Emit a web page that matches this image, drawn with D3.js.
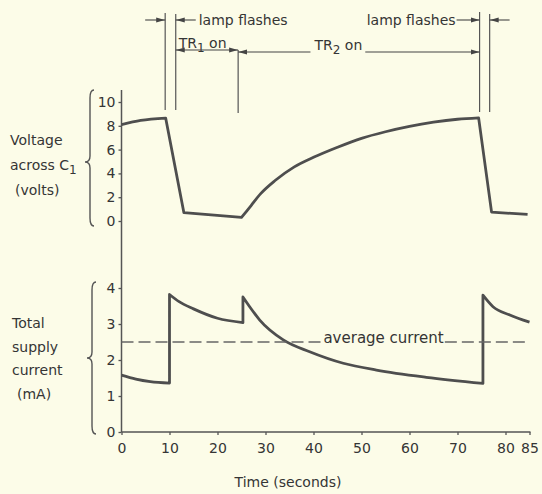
<!DOCTYPE html>
<html lang="en">
  <head>
    <meta charset="utf-8"/>
    <script src="https://d3js.org/d3.v7.min.js"></script>
    <style>
      body { margin: 0; background: #fcfce8; }
      .chart text {
        font-family: "DejaVu Sans", sans-serif;
        fill: #353535;
      }
      .axis path { display: none; }
      .axis line { stroke: #555; stroke-width: 1.3; }
      .axis text { font-size: 14px; }
    </style>
  </head>
  <body>
    <svg class="chart" width="542" height="494"></svg>
  </body>
  <script>
    // values
    const xTicks = [0, 10, 20, 30, 40, 50, 60, 70, 80, 85];
    const voltTicks = [0, 2, 4, 6, 8, 10];
    const currTicks = [0, 1, 2, 3, 4];

    const voltTime   = [0, 4, 9.2, 13, 25, 27, 29, 32, 36, 40, 45, 50, 55, 60, 65, 70, 74.4, 77.1, 84.6];
    const voltValues = [8.1, 8.45, 8.65, 0.7, 0.3, 1.3, 2.3, 3.4, 4.55, 5.35, 6.2, 6.95, 7.5, 7.95, 8.3, 8.55, 8.67, 0.75, 0.55];
    const voltCorners = [2, 3, 4, 16, 17];

    const currTime   = [0, 3, 6, 10, 10, 12, 15, 20, 25.3, 25.3, 26.7, 28.8, 33.7, 39.2, 46.2, 53.1, 63.5, 75.3, 75.3, 77.4, 80.9, 85];
    const currValues = [1.58, 1.47, 1.4, 1.36, 3.82, 3.62, 3.42, 3.16, 3.04, 3.75, 3.48, 3.11, 2.56, 2.23, 1.91, 1.72, 1.52, 1.35, 3.8, 3.48, 3.25, 3.05];
    const currCorners = [3, 4, 8, 9, 17, 18];

    const averageCurrent = 2.5;
    // times of the marker lines: flash 1 start/end, TR1 off, flash 2 start/end
    const eventTimes = [9.1, 11.3, 24.3, 74.6, 76.7];

    const svg = d3.select(".chart");
    svg.append("rect").attr("width", 542).attr("height", 494).attr("fill", "#fcfce8");

    const x = d3.scaleLinear().domain([0, 85]).range([121.5, 529.5]);
    const yV = d3.scaleLinear().domain([0, 10]).range([221, 102]);
    const yC = d3.scaleLinear().domain([0, 4]).range([432, 288]);

    // axes
    svg.append("g").attr("class", "axis")
      .attr("transform", "translate(0,432)")
      .call(d3.axisBottom(x).tickValues(xTicks).tickSize(3).tickPadding(8).tickFormat(d3.format("d")));
    svg.append("g").attr("class", "axis")
      .attr("transform", "translate(121.5,0)")
      .call(d3.axisLeft(yV).tickValues(voltTicks).tickSize(3).tickPadding(3).tickFormat(d3.format("d")));
    svg.append("g").attr("class", "axis")
      .attr("transform", "translate(121.5,0)")
      .call(d3.axisLeft(yC).tickValues(currTicks).tickSize(3).tickPadding(3).tickFormat(d3.format("d")));

    svg.append("line")
      .attr("x1", x(0)).attr("x2", x(0)).attr("y1", 90).attr("y2", yC(0))
      .attr("stroke", "#555").attr("stroke-width", 1.5);
    svg.append("line")
      .attr("x1", x(0)).attr("x2", x(85) + 1).attr("y1", yC(0)).attr("y2", yC(0))
      .attr("stroke", "#555").attr("stroke-width", 1.5);

    // curves: smooth between corners, sharp at corners
    function tracePath(times, values, corners, yScale) {
      const line = d3.line()
        .x(function(d) { return x(times[d]); })
        .y(function(d) { return yScale(values[d]); })
        .curve(d3.curveMonotoneX);
      const cuts = [0].concat(corners, [times.length - 1]);
      let d = "";
      for (let k = 0; k < cuts.length - 1; k++) {
        const idx = d3.range(cuts[k], cuts[k + 1] + 1);
        let seg = line(idx);
        if (k > 0) seg = "L" + seg.slice(1);
        d += seg;
      }
      return d;
    }

    svg.append("path")
      .attr("d", tracePath(voltTime, voltValues, voltCorners, yV))
      .attr("fill", "none").attr("stroke", "#4e4e4e").attr("stroke-width", 2.8)
      .attr("stroke-linejoin", "round");
    svg.append("path")
      .attr("d", tracePath(currTime, currValues, currCorners, yC))
      .attr("fill", "none").attr("stroke", "#4e4e4e").attr("stroke-width", 2.8)
      .attr("stroke-linejoin", "round");

    // average current dashed line with its label
    const avgLabel = svg.append("text")
      .attr("x", x(54.6)).attr("y", yC(averageCurrent) + 1)
      .attr("text-anchor", "middle").style("font-size", "15px")
      .text("average current");
    const bb = avgLabel.node().getBBox();
    [[x(0), bb.x - 1], [bb.x + bb.width + 1, x(85)]].forEach(function(seg) {
      svg.append("line")
        .attr("x1", seg[0]).attr("x2", seg[1])
        .attr("y1", yC(averageCurrent)).attr("y2", yC(averageCurrent))
        .attr("stroke", "#666").attr("stroke-width", 1.3)
        .attr("stroke-dasharray", "12,5");
    });

    // y labels
    function label(lines, xPos, yPos, gap) {
      const t = svg.append("text").style("font-size", "14px");
      lines.forEach(function(l, i) {
        t.append("tspan").attr("x", xPos + (l.dx || 0)).attr("y", yPos + i * gap).text(l.text);
        if (l.sub) {
          t.append("tspan").attr("dy", 4).style("font-size", "12px").text(l.sub);
        }
      });
    }
    label([{text: "Voltage"}, {text: "across C", sub: "1"}, {text: "(volts)", dx: 5}], 10, 145, 25);
    label([{text: "Total"}, {text: "supply"}, {text: "current"}, {text: "(mA)", dx: 5}], 12, 328, 23.5);

    // braces
    function brace(bx, y0, y1, ym) {
      const p = d3.path();
      p.moveTo(bx + 4, y0);
      p.quadraticCurveTo(bx, y0, bx, y0 + 8);
      p.lineTo(bx, ym - 6);
      p.quadraticCurveTo(bx, ym, bx - 5, ym);
      p.quadraticCurveTo(bx, ym, bx, ym + 6);
      p.lineTo(bx, y1 - 8);
      p.quadraticCurveTo(bx, y1, bx + 4, y1);
      svg.append("path").attr("d", p.toString())
        .attr("fill", "none").attr("stroke", "#555").attr("stroke-width", 1.4);
    }
    brace(90, 90, 226, 162);
    brace(92, 282, 434, 358);

    svg.append("text")
      .attr("x", 288).attr("y", 487).attr("text-anchor", "middle")
      .style("font-size", "14px").text("Time (seconds)");

    // top annotations
    svg.append("defs").append("marker")
      .attr("id", "ah").attr("viewBox", "0 -3 9 6")
      .attr("refX", 9).attr("refY", 0)
      .attr("markerWidth", 9).attr("markerHeight", 6)
      .attr("markerUnits", "userSpaceOnUse")
      .attr("orient", "auto")
      .append("path").attr("d", "M0,-2.5L9,0L0,2.5Z").attr("fill", "#444");

    function arrow(x1, x2, yy) {
      svg.append("line")
        .attr("x1", x1).attr("x2", x2).attr("y1", yy).attr("y2", yy)
        .attr("stroke", "#444").attr("stroke-width", 1.1)
        .attr("marker-end", "url(#ah)");
    }
    const ex = eventTimes.map(function(t) { return x(t); });
    const vTops = [13, 14, 50, 12, 14];
    const vBottoms = [110, 110, 113, 112, 112];
    ex.forEach(function(xx, i) {
      svg.append("line")
        .attr("x1", xx).attr("x2", xx).attr("y1", vTops[i]).attr("y2", vBottoms[i])
        .attr("stroke", "#555").attr("stroke-width", 1.2);
    });

    arrow(ex[0] - 20, ex[0], 20);
    arrow(ex[1] + 20, ex[1], 20);
    svg.append("text").attr("x", ex[1] + 23).attr("y", 25)
      .style("font-size", "14px").text("lamp flashes");
    svg.append("text").attr("x", ex[3] - 24).attr("y", 25)
      .attr("text-anchor", "end").style("font-size", "14px").text("lamp flashes");
    arrow(ex[3] - 23, ex[3], 20);
    arrow(ex[4] + 20, ex[4], 20);

    // TR1 on
    const tr1 = svg.append("text").attr("x", ex[1] + 3).attr("y", 48).style("font-size", "14px");
    tr1.append("tspan").text("TR");
    tr1.append("tspan").attr("dy", 4).style("font-size", "12px").text("1");
    tr1.append("tspan").attr("dy", -4).text(" on");
    arrow(ex[1] + 10, ex[1], 50);
    arrow(ex[1] + 10, ex[2], 50);

    // TR2 on
    const tr2 = svg.append("text").attr("x", x(40.2)).attr("y", 50).style("font-size", "14px");
    tr2.append("tspan").text("TR");
    tr2.append("tspan").attr("dy", 4).style("font-size", "12px").text("2");
    tr2.append("tspan").attr("dy", -4).text(" on");
    const tb = tr2.node().getBBox();
    arrow(tb.x - 3, ex[2], 52);
    arrow(tb.x + tb.width + 3, ex[3], 52);
  </script>
</html>
